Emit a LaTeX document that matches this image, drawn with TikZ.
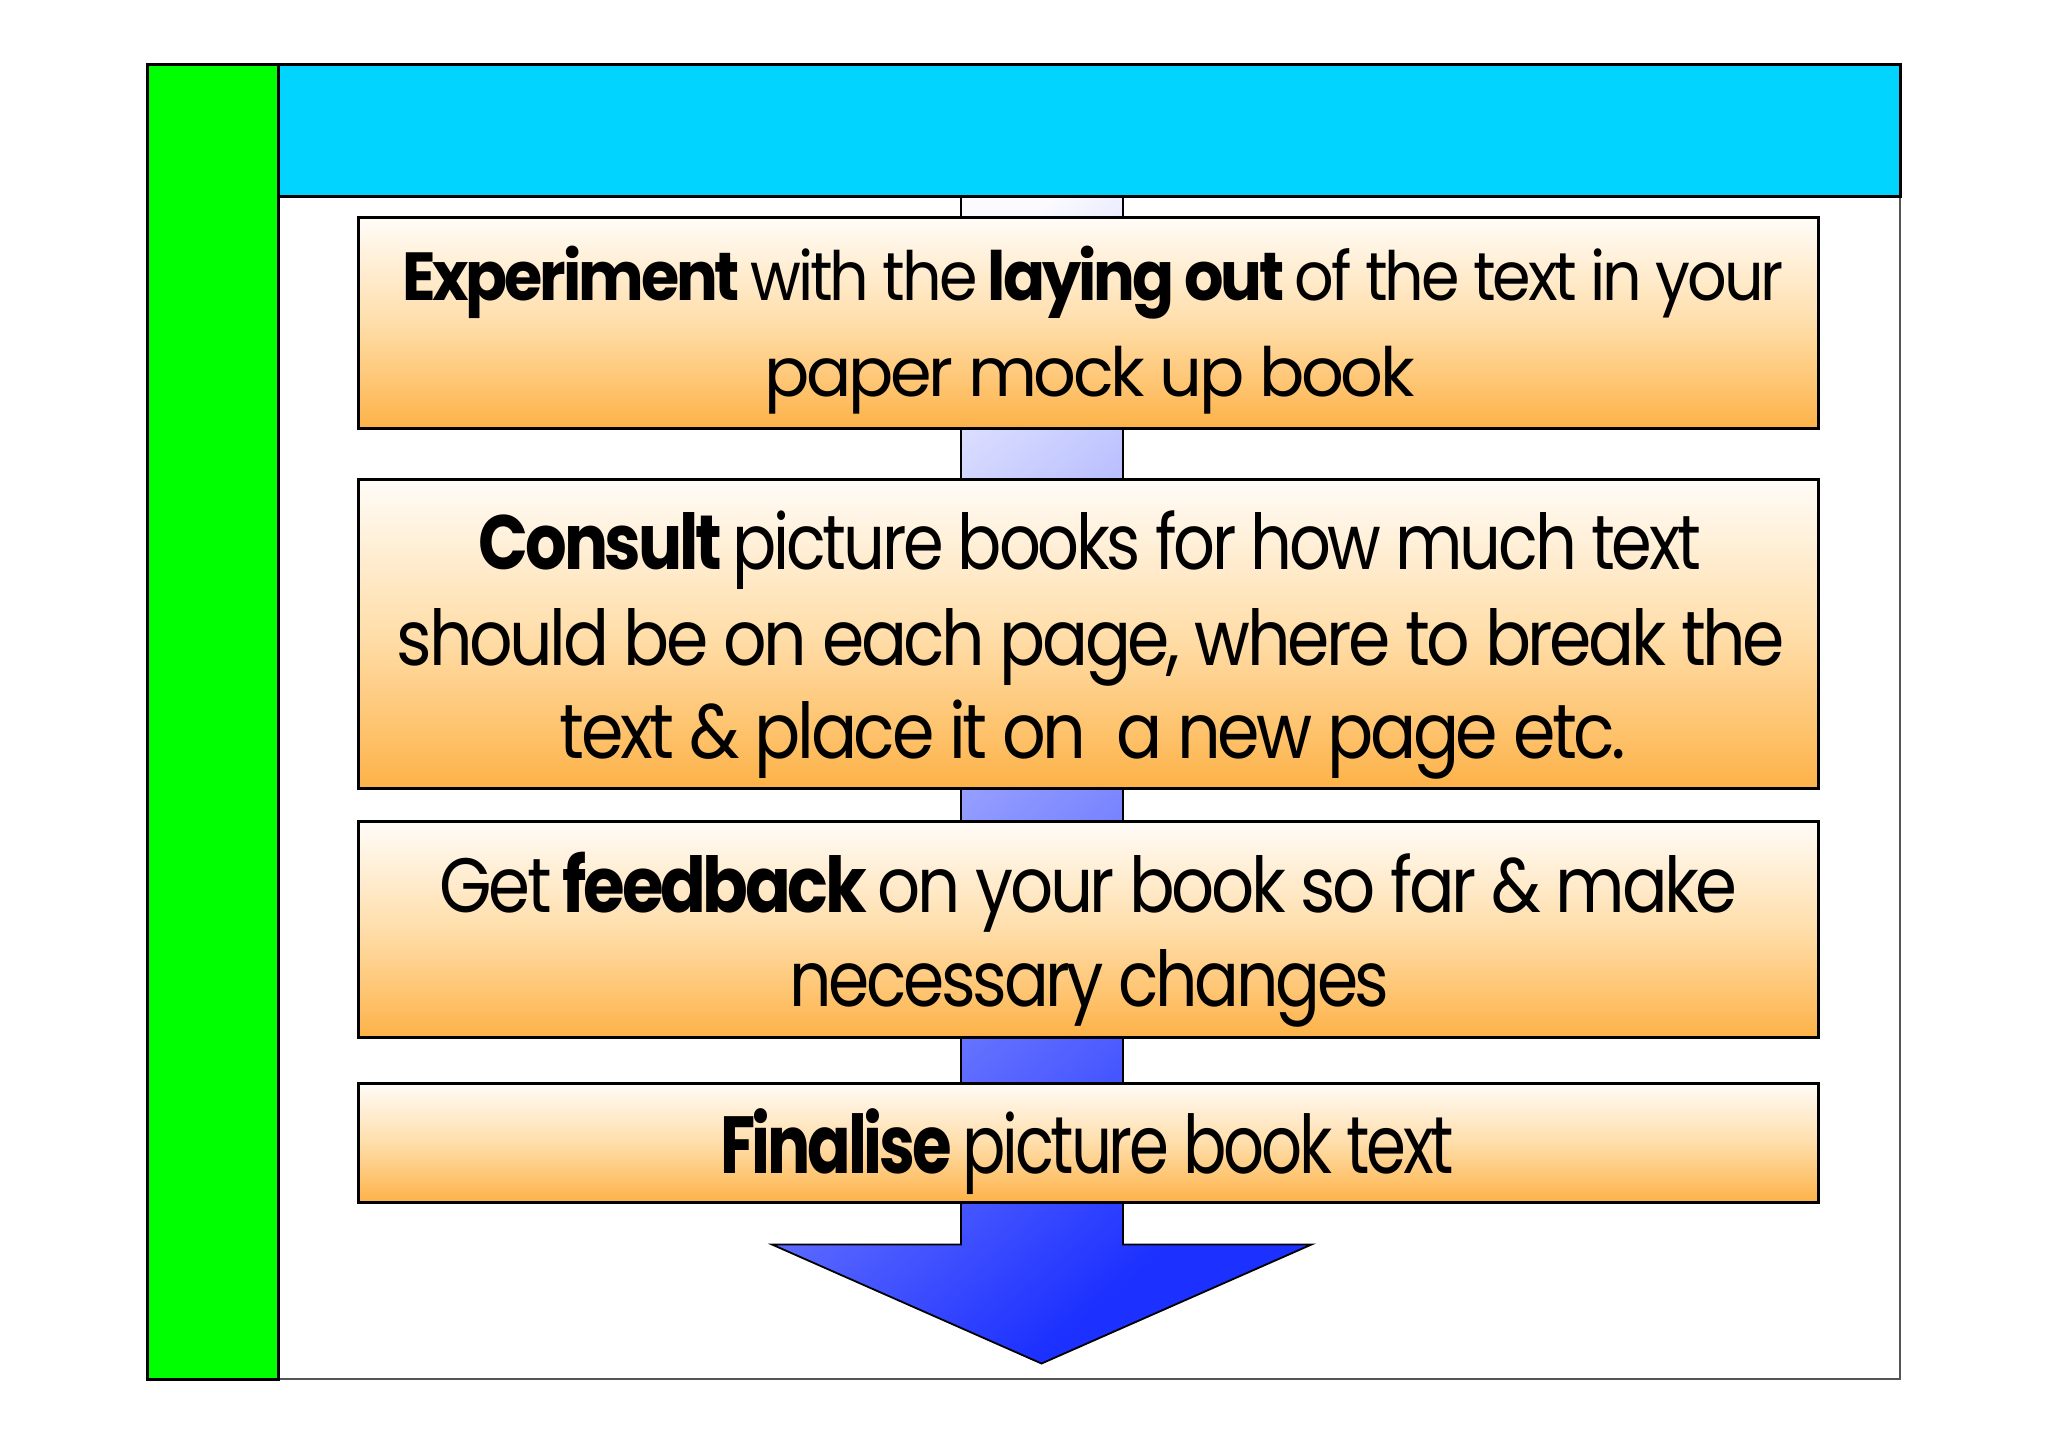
\documentclass[tikz,border=0pt]{standalone}
\usepackage{fontspec}
\usepackage{graphicx}
\setmainfont{Poppins}[LetterSpace=-5]
\usetikzlibrary{shadings}
\definecolor{gbar}{RGB}{0,255,0}
\definecolor{cbar}{RGB}{0,212,255}
\definecolor{frameg}{RGB}{85,85,85}
\definecolor{boxtop}{RGB}{255,252,248}
\definecolor{boxmid}{RGB}{255,222,170}
\definecolor{boxbot}{RGB}{253,178,72}
\definecolor{arrlight}{RGB}{250,250,255}
\definecolor{arrmid}{RGB}{155,160,255}
\definecolor{arrdark}{RGB}{28,48,255}
\newcommand\fitl[2]{\resizebox{#1}{\height}{#2}}
\begin{document}
\begin{tikzpicture}[x=0.5pt,y=-0.5pt,
  stepbox/.style={draw=black, line width=1.5pt, rectangle, inner sep=0,
    minimum width=730pt, top color=boxtop, bottom color=boxbot, middle color=boxmid},
  txt/.style={inner sep=0, anchor=base, text=black},
  bar/.style={draw=black, line width=1.5pt}]
\useasboundingbox (0,0) rectangle (2048,1447);
\fill[white] (0,0) rectangle (2048,1447);
% outer frame
\draw[frameg, line width=1pt, fill=white] (147.5,64.5) rectangle (1900,1379);
% big arrow behind the boxes
\draw[black, line width=0.9pt, top color=arrlight, middle color=arrmid, bottom color=arrdark, shading angle=40]
  (961,196) -- (1123,196) -- (1123,1244.5) -- (1311.5,1244.5) -- (1041.5,1363.5)
  -- (772,1244.5) -- (961,1244.5) -- cycle;
% bars
\draw[bar, fill=gbar] (147.5,64.5) rectangle (278,1379);
\draw[bar, fill=cbar] (278,64.5) rectangle (1900,196);
% boxes
\node[stepbox, minimum height=105.5pt] (b1) at (1088,322.5) {};
\node[stepbox, minimum height=154.5pt] (b2) at (1088,633.5) {};
\node[stepbox, minimum height=107.75pt] (b3) at (1088,929.25) {};
\node[stepbox, minimum height=59.5pt] (b4) at (1088,1142.5) {};
% texts
\node[txt, font=\fontsize{34}{40}\selectfont] (t1a) at (1093,300)
  {\fitl{691pt}{\textbf{Experiment} with the \textbf{laying out} of the text in your}};
\node[txt, font=\fontsize{34}{40}\selectfont] (t1b) at (1089.5,396.7)
  {\fitl{325pt}{paper mock up book}};
\node[txt, font=\fontsize{38.5}{44}\selectfont] (t2a) at (1090,569.3)
  {\fitl{611pt}{\textbf{Consult} picture books for how much text}};
\node[txt, font=\fontsize{38.5}{44}\selectfont] (t2b) at (1091,665)
  {\fitl{694pt}{should be on each page, where to break the}};
\node[txt, font=\fontsize{38.5}{44}\selectfont] (t2c) at (1093,758)
  {\fitl{533pt}{text \& place it on\ \ a new page etc.}};
\node[txt, font=\fontsize{38.5}{44}\selectfont] (t3a) at (1088.5,912.7)
  {\fitl{649pt}{Get \textbf{feedback} on your book so far \& make}};
\node[txt, font=\fontsize{38.5}{44}\selectfont] (t3b) at (1089.5,1006.7)
  {\fitl{300pt}{necessary changes}};
\node[txt, font=\fontsize{40.5}{46}\selectfont] (t4a) at (1087,1173.3)
  {\fitl{367pt}{\textbf{Finalise} picture book text}};
\end{tikzpicture}
\end{document}
